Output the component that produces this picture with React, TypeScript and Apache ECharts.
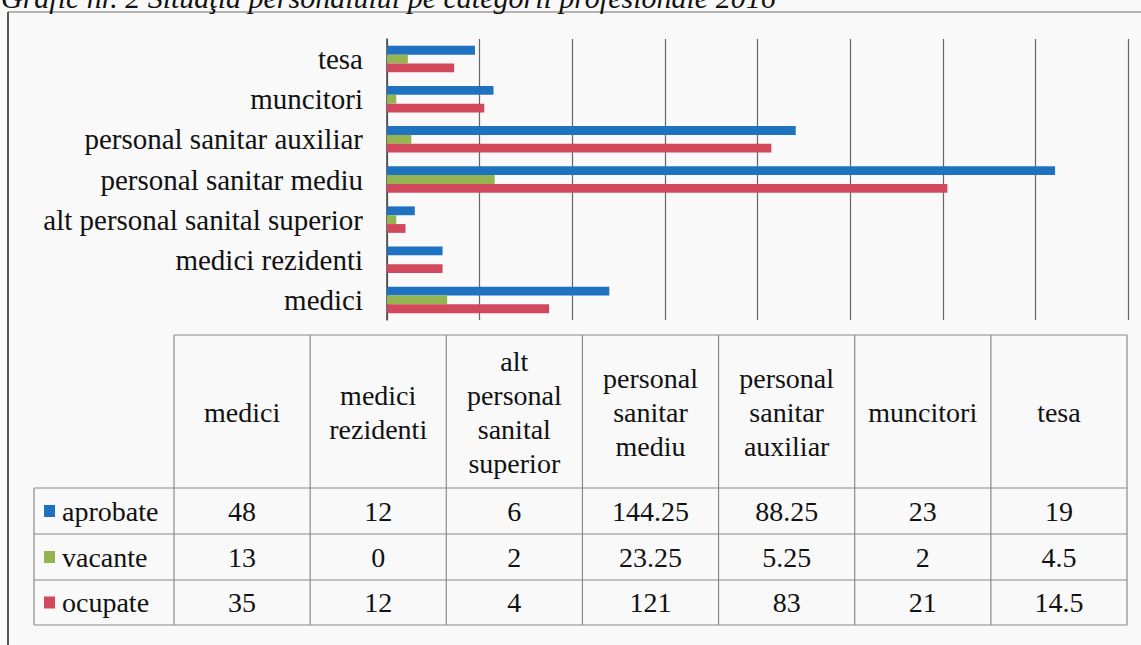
import React, { useEffect, useRef } from "react";
import * as echarts from "echarts";

const titleText = "Grafic nr. 2 Situaţia personalului pe categorii profesionale 2016";
const categories = [
  "medici",
  "medici rezidenti",
  "alt personal sanital superior",
  "personal sanitar mediu",
  "personal sanitar auxiliar",
  "muncitori",
  "tesa",
];
const aprobate = [48, 12, 6, 144.25, 88.25, 23, 19];
const vacante = [13, 0, 2, 23.25, 5.25, 2, 4.5];
const ocupate = [35, 12, 4, 121, 83, 21, 14.5];
const seriesNames = ["aprobate", "vacante", "ocupate"];
const seriesColors = ["#1f72bf", "#93b451", "#d2495e"];
const xMin = 0;
const xMax = 160;
const xInterval = 20;

const SERIF = "Liberation Serif";

export default function App() {
  const ref = useRef<HTMLDivElement>(null);

  useEffect(() => {
    if (!ref.current) return;
    const chart = echarts.init(ref.current, null, { renderer: "svg" });
    const seriesData = [aprobate, vacante, ocupate];

    const tLeft = 34;
    const colStart = 174;
    const colEnd = 1127;
    const colW = (colEnd - colStart) / categories.length;
    const headTop = 335;
    const rowYs = [488, 534, 580, 625];
    const lineColor = "#8a8a8a";
    const fontSize = 28;
    const g: any[] = [];

    g.push({ type: "line", shape: { x1: 8, y1: 12, x2: 1141, y2: 12 }, style: { stroke: "#9a9a9a", lineWidth: 1.5 } });
    g.push({ type: "line", shape: { x1: 8, y1: 12, x2: 8, y2: 645 }, style: { stroke: "#555", lineWidth: 2 } });

    g.push({
      type: "text",
      style: {
        text: titleText,
        x: 1,
        y: -3,
        fontFamily: SERIF,
        fontStyle: "italic",
        fontSize: 30,
        fill: "#111",
        textVerticalAlign: "middle",
      },
    });

    const ln = (x1: number, y1: number, x2: number, y2: number) =>
      g.push({ type: "line", shape: { x1, y1, x2, y2 }, style: { stroke: lineColor, lineWidth: 1.2 } });
    ln(colStart, headTop, colEnd, headTop);
    rowYs.forEach((y) => ln(tLeft, y, colEnd, y));
    ln(tLeft, rowYs[0], tLeft, rowYs[3]);
    for (let i = 0; i <= categories.length; i++) {
      const x = colStart + i * colW;
      ln(x, headTop, x, rowYs[3]);
    }
    categories.forEach((c, i) => {
      g.push({
        type: "text",
        style: {
          text: c.split(" ").join("\n"),
          x: colStart + (i + 0.5) * colW,
          y: (headTop + rowYs[0]) / 2 + 1,
          fontFamily: SERIF,
          fontSize,
          lineHeight: 34,
          fill: "#111",
          textAlign: "center",
          textVerticalAlign: "middle",
        },
      });
    });
    seriesNames.forEach((name, r) => {
      const cy = (rowYs[r] + rowYs[r + 1]) / 2;
      g.push({ type: "rect", shape: { x: 44, y: cy - 6, width: 11, height: 12 }, style: { fill: seriesColors[r] } });
      g.push({
        type: "text",
        style: { text: name, x: 62, y: cy, fontFamily: SERIF, fontSize, fill: "#111", textAlign: "left", textVerticalAlign: "middle" },
      });
      seriesData[r].forEach((v, i) => {
        g.push({
          type: "text",
          style: {
            text: String(v),
            x: colStart + (i + 0.5) * colW,
            y: cy,
            fontFamily: SERIF,
            fontSize,
            fill: "#111",
            textAlign: "center",
            textVerticalAlign: "middle",
          },
        });
      });
    });

    chart.setOption({
      animation: false,
      backgroundColor: "#f9f9f9",
      textStyle: { fontFamily: SERIF },
      grid: { left: 387, right: 13, top: 39, height: 281, containLabel: false },
      xAxis: {
        type: "value",
        min: xMin,
        max: xMax,
        interval: xInterval,
        axisLabel: { show: false },
        axisLine: { show: false },
        axisTick: { show: false },
        splitLine: { show: true, lineStyle: { color: "#666", width: 1.2 } },
      },
      yAxis: {
        type: "category",
        data: categories,
        axisLine: { show: true, lineStyle: { color: "#444", width: 1.5 } },
        axisTick: { show: false },
        axisLabel: { fontFamily: SERIF, fontSize: 29, color: "#111", margin: 24 },
      },
      series: seriesNames.map((name, i) => ({
        name,
        type: "bar",
        data: seriesData[i],
        itemStyle: { color: seriesColors[i] },
        barGap: "0%",
        barCategoryGap: "34%",
      })),
      graphic: g,
    });
    return () => chart.dispose();
  }, []);

  return <div ref={ref} style={{ position: "absolute", left: 0, top: 0, width: 1141, height: 645 }} />;
}
